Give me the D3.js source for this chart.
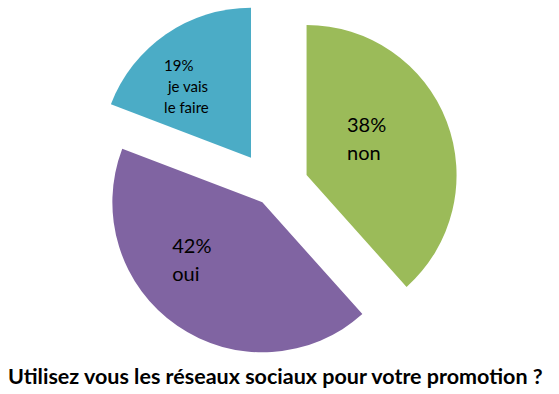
<!DOCTYPE html>
<html><head><meta charset="utf-8">
<script src="https://cdn.jsdelivr.net/npm/d3@7"></script>
<style>body{margin:0;background:#fff;}svg{display:block;}</style>
</head><body>
<svg id="c" width="559" height="394"></svg>
<script>
const categories = ["non", "oui", "je vais le faire"];
const values = [38, 42, 19];
const labelLines = [["38%", "non"], ["42%", "oui"], ["19%", " je vais", "le faire"]];
const colors = ["#9BBB59", "#8064A2", "#4BACC6"];
const title = "Utilisez vous les réseaux sociaux pour votre promotion ?";

// layout
const cx = 272, cy = 188.3, R = 150;
const explode = [37, 17, 37];
const labelFont = [20, 20, 15];
const labelLead = [28, 28, 21];
const labelOff = [[-29.6, -16.3], [-47.6, -10.6], [-44.4, -25.4]];

const svg = d3.select("#c");
const pie = d3.pie().sort(null).value(d => d);
const arcs = pie(values);
const arc = d3.arc().innerRadius(0).outerRadius(R);
const cArc = d3.arc().innerRadius(0).outerRadius(R);

const g = svg.append("g").attr("transform", `translate(${cx},${cy})`);
arcs.forEach((a, i) => {
  const mid = (a.startAngle + a.endAngle) / 2;
  const ox = explode[i] * Math.sin(mid), oy = -explode[i] * Math.cos(mid);
  const sg = g.append("g").attr("transform", `translate(${ox},${oy})`);
  sg.append("path").attr("d", arc(a)).attr("fill", colors[i]);
  const c = cArc.centroid(a);
  const t = sg.append("text")
    .attr("font-family", "Lato, 'Open Sans', sans-serif")
    .attr("font-size", labelFont[i])
    .attr("fill", "#000")
    .attr("xml:space", "preserve")
    .style("white-space", "pre");
  labelLines[i].forEach((ln, k) => {
    t.append("tspan")
      .attr("x", c[0] + labelOff[i][0])
      .attr("y", c[1] + labelOff[i][1] + k * labelLead[i])
      .text(ln);
  });
});

const tt = svg.append("text")
  .attr("x", 8).attr("y", 384)
  .attr("font-family", "Lato, 'Open Sans', sans-serif")
  .attr("font-weight", "bold")
  .attr("font-size", 18)
  .attr("fill", "#000")
  .text(title);
const w = tt.node().getComputedTextLength();
tt.attr("font-size", 18 * 535 / w);
</script>
</body></html>
